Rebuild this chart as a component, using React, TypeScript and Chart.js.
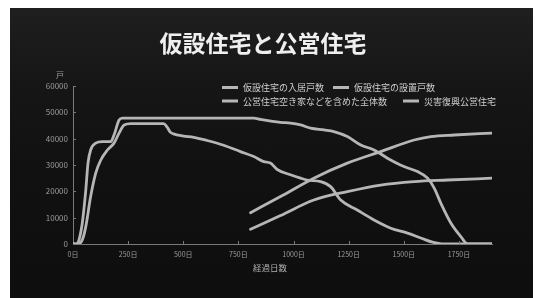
import React, { useEffect, useRef } from "react";
import { Chart, registerables } from "chart.js";

Chart.register(...registerables);

// ---- Text ----
const TITLE = "仮設住宅と公営住宅";
const UNIT_LABEL = "戸";
const X_AXIS_TITLE = "経過日数";
const SERIES_LABELS = [
  "仮設住宅の入居戸数",
  "仮設住宅の設置戸数",
  "公営住宅空き家などを含めた全体数",
  "災害復興公営住宅",
];

// ---- Data (days elapsed / units) ----
const occupiedDays = [0, 20, 42, 58, 80, 103, 126, 156, 186, 209, 232, 262, 411, 426, 441, 456, 501, 547, 608, 683, 759, 820, 865, 895, 926, 986, 1032, 1062, 1123, 1168, 1214, 1289, 1365, 1441, 1517, 1580, 1630, 1680, 1900];
const occupiedUnits = [0, 0, 1500, 6600, 18000, 26900, 31900, 35700, 38300, 42100, 45200, 45700, 45700, 44500, 42500, 41800, 41000, 40500, 39300, 37500, 35100, 33200, 31300, 30800, 28300, 26300, 25000, 24300, 23700, 21800, 16700, 12900, 9100, 6000, 4100, 2200, 700, 0, 0];

const installedDays = [0, 17, 27, 42, 58, 68, 80, 103, 133, 171, 186, 209, 224, 820, 850, 941, 986, 1032, 1077, 1138, 1183, 1244, 1305, 1365, 1426, 1501, 1562, 1608, 1638, 1668, 1714, 1759, 1789, 1900];
const installedUnits = [0, 0, 1500, 7900, 20500, 30700, 35700, 38300, 38900, 38900, 41400, 47100, 47800, 47800, 47300, 46200, 45900, 45200, 44000, 43300, 42700, 40800, 37600, 35700, 32600, 29400, 27500, 25000, 21200, 15500, 7900, 2800, 0, 0];

const totalPublicDays = [805, 941, 1092, 1244, 1395, 1547, 1623, 1729, 1900];
const totalPublicUnits = [11900, 18000, 25000, 30700, 35100, 39500, 40800, 41400, 42100];

const reconstructionDays = [805, 941, 1092, 1244, 1395, 1547, 1699, 1900];
const reconstructionUnits = [5600, 10800, 16700, 19900, 22400, 23700, 24300, 25000];

const X_MAX = 1900;
const X_STEP = 250;
const Y_MAX = 60000;
const Y_STEP = 10000;

// ---- Styles ----
const FONT = "'Noto Sans CJK JP', 'Noto Sans', sans-serif";
const LINE_COLOR = "#b6b6b6";
const AXIS_COLOR = "#7a7a7a";
const TICK_TEXT = "#9c9c9c";

const toPoints = (xs: number[], ys: number[]) => xs.map((x, i) => ({ x, y: ys[i] }));

const decorPlugin = {
  id: "decor",
  afterDraw(chart: any) {
    const { ctx, chartArea, scales } = chart;
    const xs = scales.x;
    const ys = scales.y;
    ctx.save();

    // inner tick marks
    ctx.strokeStyle = AXIS_COLOR;
    ctx.lineWidth = 1;
    xs.ticks.forEach((t: any) => {
      if (t.value === 0) return;
      const px = Math.round(xs.getPixelForValue(t.value)) + 0.5;
      ctx.beginPath();
      ctx.moveTo(px, chartArea.bottom);
      ctx.lineTo(px, chartArea.bottom - 3);
      ctx.stroke();
    });
    ys.ticks.forEach((t: any) => {
      const py = Math.round(ys.getPixelForValue(t.value)) + 0.5;
      ctx.beginPath();
      ctx.moveTo(chartArea.left, py);
      ctx.lineTo(chartArea.left + 3, py);
      ctx.stroke();
    });

    // title
    ctx.fillStyle = "#efefef";
    ctx.font = `bold 23px ${FONT}`;
    ctx.textAlign = "center";
    ctx.textBaseline = "middle";
    ctx.fillText(TITLE, 253, 35);

    // unit label
    ctx.fillStyle = TICK_TEXT;
    ctx.font = `8px ${FONT}`;
    ctx.fillText(UNIT_LABEL, chartArea.left - 13, chartArea.top - 11);

    // x axis title
    ctx.fillStyle = "#b0b0b0";
    ctx.font = `8.5px ${FONT}`;
    ctx.fillText(X_AXIS_TITLE, 260, chartArea.bottom + 24);

    // legend
    const items = [
      { x: 212, y: 79.5 },
      { x: 323, y: 79.5 },
      { x: 212, y: 93 },
      { x: 393, y: 93 },
    ];
    ctx.font = `9px ${FONT}`;
    ctx.textAlign = "left";
    chart.data.datasets.forEach((ds: any, i: number) => {
      const it = items[i];
      ctx.strokeStyle = LINE_COLOR;
      ctx.lineWidth = 3;
      ctx.lineCap = "butt";
      ctx.beginPath();
      ctx.moveTo(it.x, it.y);
      ctx.lineTo(it.x + 16, it.y);
      ctx.stroke();
      ctx.fillStyle = "#d0d0d0";
      ctx.fillText(ds.label, it.x + 21, it.y + 0.5);
    });

    ctx.restore();
  },
};

export default function App() {
  const canvasRef = useRef<HTMLCanvasElement | null>(null);

  useEffect(() => {
    if (!canvasRef.current) return;
    const seriesDays = [occupiedDays, installedDays, totalPublicDays, reconstructionDays];
    const seriesUnits = [occupiedUnits, installedUnits, totalPublicUnits, reconstructionUnits];
    const chart = new Chart(canvasRef.current, {
      type: "line",
      data: {
        datasets: SERIES_LABELS.map((label, i) => ({
          label,
          data: toPoints(seriesDays[i], seriesUnits[i]),
          borderColor: LINE_COLOR,
          backgroundColor: LINE_COLOR,
          borderWidth: 2.8,
          pointRadius: 0,
          cubicInterpolationMode: "monotone" as const,
          borderCapStyle: "round" as const,
          borderJoinStyle: "round" as const,
          fill: false,
        })),
      },
      options: {
        responsive: false,
        animation: false,
        layout: { padding: { left: 0, right: 41, top: 78, bottom: 0 } },
        plugins: {
          legend: { display: false },
          title: { display: false },
          tooltip: { enabled: false },
        },
        scales: {
          x: {
            type: "linear",
            min: 0,
            max: X_MAX,
            grid: { display: false, drawTicks: false },
            border: { color: AXIS_COLOR, width: 1 },
            ticks: {
              stepSize: X_STEP,
              includeBounds: false,
              autoSkip: false,
              maxRotation: 0,
              padding: 6,
              color: TICK_TEXT,
              font: { size: 7, family: FONT },
              callback: (v: any) => `${v}日`,
            },
            afterFit: (s: any) => {
              s.height = 54;
            },
          },
          y: {
            type: "linear",
            min: 0,
            max: Y_MAX,
            grid: { display: false, drawTicks: false },
            border: { color: AXIS_COLOR, width: 1 },
            ticks: {
              stepSize: Y_STEP,
              padding: 5,
              color: TICK_TEXT,
              font: { size: 8, family: FONT },
              callback: (v: any) => String(v),
            },
            afterFit: (s: any) => {
              s.width = 63;
            },
          },
        },
      },
      plugins: [decorPlugin],
    });
    return () => chart.destroy();
  }, []);

  return (
    <div
      style={{
        position: "fixed",
        left: 10,
        top: 8,
        width: 523,
        height: 290,
        background: "linear-gradient(180deg, #1f1f1f 0%, #161616 25%, #111111 55%, #0e0e0e 100%)",
      }}
    >
      <canvas ref={canvasRef} width={523} height={290} style={{ display: "block", width: 523, height: 290 }} />
    </div>
  );
}
